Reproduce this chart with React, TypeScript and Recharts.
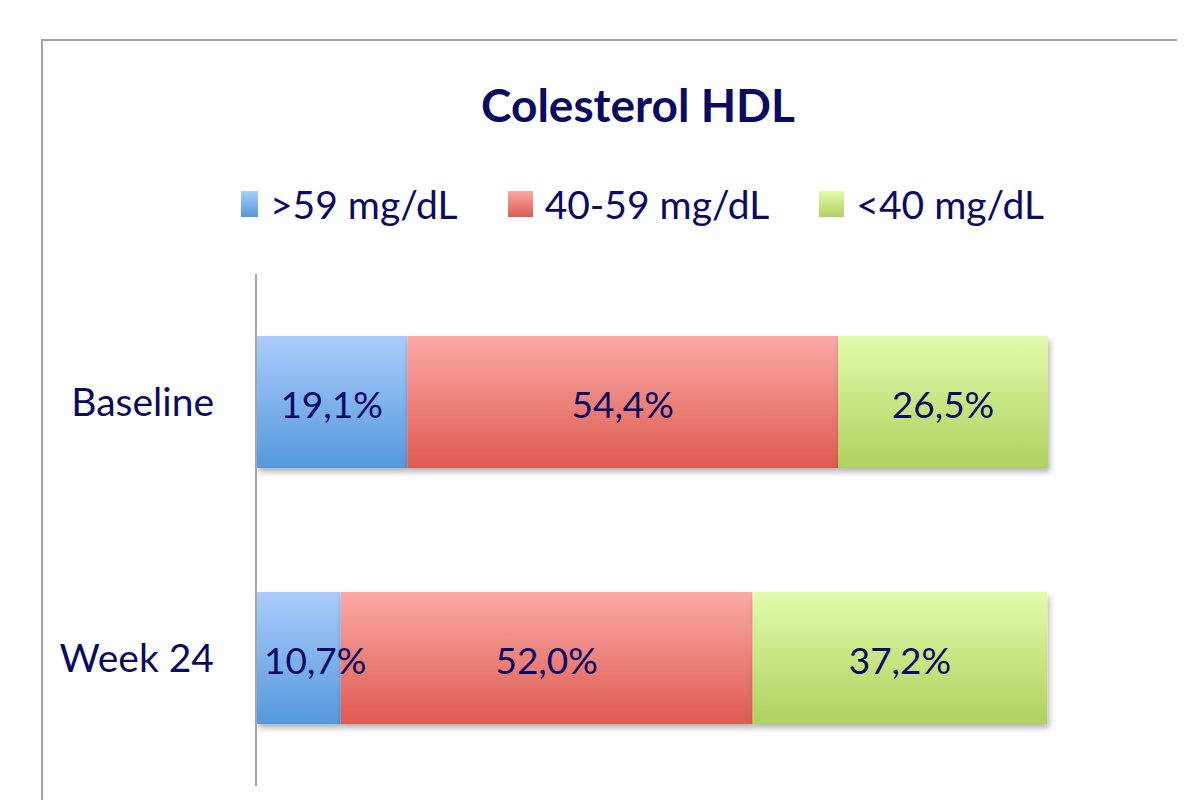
import { BarChart, Bar, XAxis, YAxis, Legend, LabelList } from "recharts";

const categories = ["Baseline", "Week 24"];
const high = [19.1, 10.7];
const mid = [54.4, 52.0];
const low = [26.5, 37.2];
const seriesNames = [">59 mg/dL", "40-59 mg/dL", "<40 mg/dL"];

const data = categories.map((name, i) => ({
    name,
    high: high[i],
    mid: mid[i],
    low: low[i],
}));

const TEXT = "#0b0b62";
const FONT = "Lato, 'Noto Sans', sans-serif";

const GRADS = [
    { id: "gBlue", top: "#aacdfc", bottom: "#5598dc" },
    { id: "gRed", top: "#fbaaa6", bottom: "#de5a51" },
    { id: "gGreen", top: "#e2fbab", bottom: "#afd15e" },
];

const fmt = (v: any) => `${Number(v).toFixed(1).replace(".", ",")}%`;

const BarLabel = (props: any) => {
    const { x, y, width, height, value } = props;
    const narrow = width < 110;
    return (
        <text
            x={narrow ? x + 8 : x + width / 2}
            y={y + height / 2 + 1}
            textAnchor={narrow ? "start" : "middle"}
            dominantBaseline="central"
            fill={TEXT}
            fontSize={37}
            fontFamily={FONT}
        >
            {fmt(value)}
        </text>
    );
};

const LegendContent = () => (
    <div
        style={{
            display: "flex",
            alignItems: "center",
            height: 50,
            lineHeight: "50px",
            fontFamily: FONT,
            fontSize: 39,
            color: TEXT,
        }}
    >
        {seriesNames.map((s, i) => (
            <div key={s} style={{ display: "flex", alignItems: "center", marginRight: 50 }}>
                <span
                    style={{
                        display: "inline-block",
                        width: i === 0 ? 17 : 25,
                        height: 26,
                        marginRight: 12,
                        background: `linear-gradient(${GRADS[i].top}, ${GRADS[i].bottom})`,
                    }}
                />
                <span>{s}</span>
            </div>
        ))}
    </div>
);

export default function App() {
    return (
        <div style={{ position: "relative", width: 1177, height: 792, overflow: "hidden", background: "#fff" }}>
            <div
                style={{
                    position: "absolute",
                    left: 33,
                    top: 31,
                    width: 2000,
                    height: 2000,
                    borderTop: "2.5px solid #a3a3a3",
                    borderLeft: "2.5px solid #a3a3a3",
                }}
            />
            <div
                style={{
                    position: "absolute",
                    left: 0,
                    width: 1260,
                    top: 69,
                    textAlign: "center",
                    fontFamily: FONT,
                    fontWeight: 700,
                    fontSize: 46,
                    color: TEXT,
                    lineHeight: "56px",
                }}
            >
                Colesterol HDL
            </div>
            <BarChart
                width={1177}
                height={792}
                data={data}
                layout="vertical"
                margin={{ top: 266, right: 137, bottom: 14, left: 0 }}
                barSize={132}
            >
                <defs>
                    {GRADS.map((g) => (
                        <linearGradient key={g.id} id={g.id} x1="0" y1="0" x2="0" y2="1">
                            <stop offset="0%" stopColor={g.top} />
                            <stop offset="100%" stopColor={g.bottom} />
                        </linearGradient>
                    ))}
                    <filter id="barShadow" x="-10%" y="-10%" width="130%" height="140%">
                        <feDropShadow dx="2" dy="4" stdDeviation="3" floodColor="#000" floodOpacity="0.3" />
                    </filter>
                </defs>
                <XAxis type="number" domain={[0, 100]} hide />
                <YAxis
                    type="category"
                    dataKey="name"
                    width={248}
                    axisLine={{ stroke: "#a6a6a6", strokeWidth: 2 }}
                    tickLine={false}
                    tickMargin={36}
                    tick={{ fill: TEXT, fontSize: 39, fontFamily: FONT }}
                />
                <Legend
                    layout="horizontal"
                    verticalAlign="middle"
                    align="center"
                    content={<LegendContent />}
                    wrapperStyle={{ top: 171, left: 233, width: 1000 }}
                />
                <Bar dataKey="high" name={seriesNames[0]} stackId="a" fill="url(#gBlue)" filter="url(#barShadow)" isAnimationActive={false}>
                    <LabelList dataKey="high" content={<BarLabel />} />
                </Bar>
                <Bar dataKey="mid" name={seriesNames[1]} stackId="a" fill="url(#gRed)" filter="url(#barShadow)" isAnimationActive={false}>
                    <LabelList dataKey="mid" content={<BarLabel />} />
                </Bar>
                <Bar dataKey="low" name={seriesNames[2]} stackId="a" fill="url(#gGreen)" filter="url(#barShadow)" isAnimationActive={false}>
                    <LabelList dataKey="low" content={<BarLabel />} />
                </Bar>
            </BarChart>
        </div>
    );
}
